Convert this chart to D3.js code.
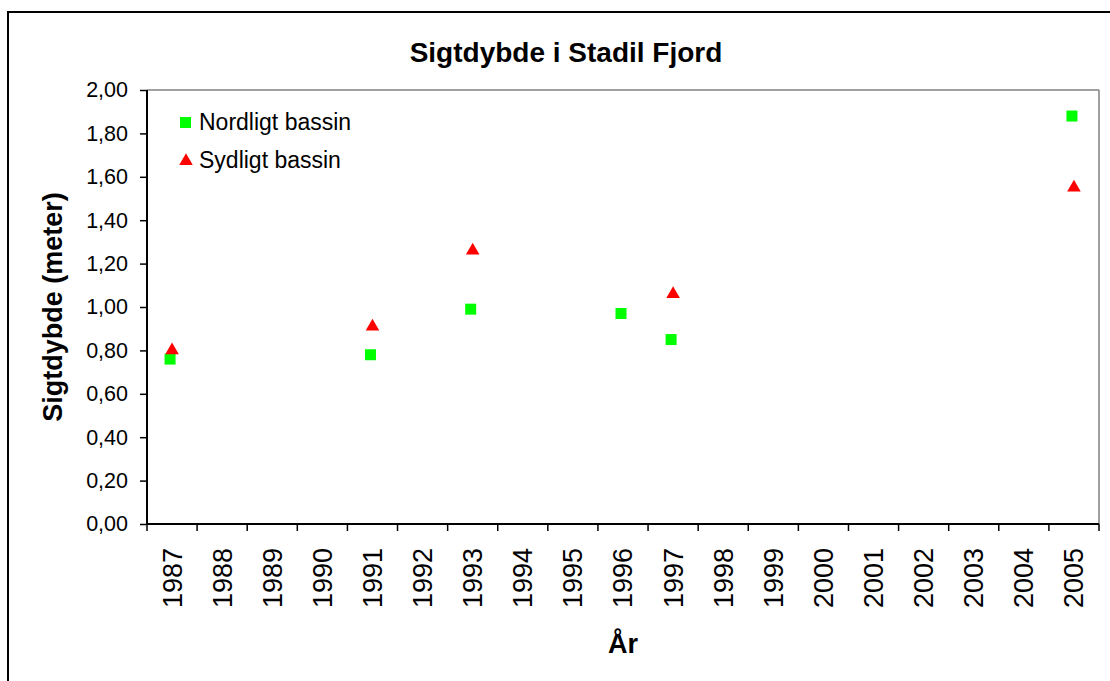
<!DOCTYPE html>
<html><head><meta charset="utf-8">
<script src="https://cdn.jsdelivr.net/npm/d3@7"></script>
<style>
html,body{margin:0;padding:0;background:#fff;}
text{font-family:"Liberation Sans",Arial,sans-serif;fill:#000;}
</style></head>
<body>
<svg id="chart" width="1110" height="681"></svg>
<script>
const years = ["1987","1988","1989","1990","1991","1992","1993","1994","1995","1996","1997","1998","1999","2000","2001","2002","2003","2004","2005"];
const nordYears = ["1987","1991","1993","1996","1997","2005"];
const nordValues = [0.76, 0.78, 0.99, 0.97, 0.85, 1.88];
const sydYears = ["1987","1991","1993","1997","2005"];
const sydValues = [0.80, 0.91, 1.26, 1.06, 1.55];
const yTicks = [0,0.2,0.4,0.6,0.8,1.0,1.2,1.4,1.6,1.8,2.0];
const seriesNames = ["Nordligt bassin","Sydligt bassin"];

const svg = d3.select("#chart");
const L=147, R=1099, T=90, B=524;

// outer chart border
svg.append("rect").attr("x",8).attr("y",12).attr("width",1130).attr("height",700)
  .attr("fill","none").attr("stroke","#000").attr("stroke-width",2);

const x = d3.scaleBand().domain(years).range([L,R]).padding(0);
const y = d3.scaleLinear().domain([0,2]).range([B,T]);

// plot area border (grey top/right)
svg.append("line").attr("x1",L).attr("x2",R).attr("y1",T).attr("y2",T).attr("stroke","#808080").attr("stroke-width",1.5);
svg.append("line").attr("x1",R).attr("x2",R).attr("y1",T).attr("y2",B).attr("stroke","#808080").attr("stroke-width",1.5);

// y axis
const fmt = d => d.toFixed(2).replace(".",",");
const yAxis = svg.append("g").attr("transform",`translate(${L},0)`)
  .call(d3.axisLeft(y).tickValues(yTicks).tickFormat(fmt).tickSize(7).tickPadding(12));
yAxis.select(".domain").attr("stroke","#000").attr("stroke-width",2).attr("d",`M0,${T}V${B}`);
yAxis.selectAll(".tick line").attr("stroke","#000").attr("stroke-width",1.5);
yAxis.selectAll(".tick text").attr("font-size",21.5).attr("font-family","Liberation Sans, Arial, sans-serif").attr("fill","#000");

// x axis
const xAxis = svg.append("g").attr("transform",`translate(0,${B})`)
  .call(d3.axisBottom(x).tickSize(0).tickPadding(0));
xAxis.select(".domain").attr("stroke","#000").attr("stroke-width",2).attr("d",`M${L},0H${R}`);
xAxis.selectAll(".tick text")
  .attr("font-size",27).attr("font-family","Liberation Sans, Arial, sans-serif").attr("fill","#000")
  .attr("transform","rotate(-90)").attr("text-anchor","end").attr("x",-24).attr("y",0).attr("dy","0.35em");
// tick marks at category boundaries
const bounds = years.map(d => x(d)).concat([x(years[years.length-1]) + x.bandwidth()]);
xAxis.selectAll(".bt").data(bounds).enter().append("line")
  .attr("x1",d=>d).attr("x2",d=>d).attr("y1",0).attr("y2",7).attr("stroke","#000").attr("stroke-width",1.5);

// title
svg.append("text").attr("x",566).attr("y",62).attr("text-anchor","middle")
  .attr("font-size",28).attr("font-weight","bold").text("Sigtdybde i Stadil Fjord");
// axis titles
svg.append("text").attr("transform",`translate(62,${(T+B)/2}) rotate(-90)`).attr("text-anchor","middle")
  .attr("font-size",27).attr("font-weight","bold").text("Sigtdybde (meter)");
svg.append("text").attr("x",(L+R)/2).attr("y",653).attr("text-anchor","middle")
  .attr("font-size",27).attr("font-weight","bold").text("År");

// markers
const cx = d => x(d) + x.bandwidth()/2;
const sq = 11;
svg.append("g").selectAll("rect").data(nordYears.map((d,i)=>({yr:d,v:nordValues[i]}))).enter().append("rect")
  .attr("x",d=>cx(d.yr)-2-sq/2).attr("y",d=>y(d.v)-sq/2).attr("width",sq).attr("height",sq).attr("fill","#00ff00");
const tri = d3.symbol().type(d3.symbolTriangle).size(80);
svg.append("g").selectAll("path").data(sydYears.map((d,i)=>({yr:d,v:sydValues[i]}))).enter().append("path")
  .attr("d",tri).attr("transform",d=>`translate(${cx(d.yr)},${y(d.v)})`).attr("fill","#ff0000");

// legend
const lg = svg.append("g");
lg.append("rect").attr("x",180).attr("y",117).attr("width",sq).attr("height",sq).attr("fill","#00ff00");
lg.append("text").attr("x",199).attr("y",130).attr("font-size",23).text(seriesNames[0]);
lg.append("path").attr("d",tri).attr("transform","translate(186,161)").attr("fill","#ff0000");
lg.append("text").attr("x",199).attr("y",168).attr("font-size",23).text(seriesNames[1]);
</script>
</body></html>
